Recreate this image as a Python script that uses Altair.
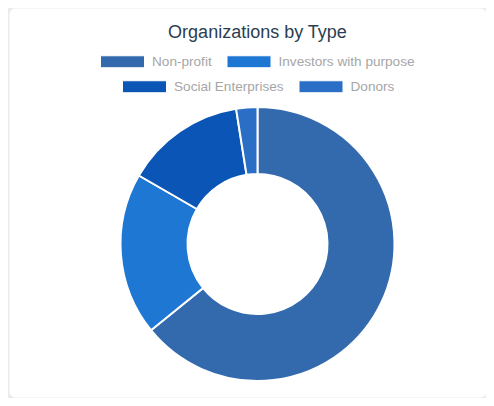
import altair as alt
import pandas as pd

categories = ["Non-profit", "Investors with purpose", "Social Enterprises", "Donors"]
counts = [77, 23, 17, 3]
colors = ["#336aad", "#1f77d4", "#0a55b5", "#2a6fc5"]
order = [0, 1, 2, 3]

df = pd.DataFrame({"type": categories, "count": counts, "idx": order})

rect_path = "M-1,-0.2727L1,-0.2727L1,0.2727L-1,0.2727Z"
FONT = "Liberation Sans"


def arc_layer(cats, lx, ly):
    cols = [colors[categories.index(c)] for c in cats]
    return (
        alt.Chart(df)
        .transform_joinaggregate(total="sum(count)")
        .transform_window(cum="sum(count)", sort=[alt.SortField("idx", order="ascending")], frame=[None, 0])
        .transform_calculate(
            t1="datum.cum / datum.total * 2 * PI",
            t0="(datum.cum - datum.count) / datum.total * 2 * PI",
        )
        .transform_filter(alt.FieldOneOfPredicate(field="type", oneOf=cats))
        .mark_arc(outerRadius=137, innerRadius=70, stroke="white", strokeWidth=2)
        .encode(
            theta=alt.Theta("t0:Q", scale=None),
            theta2="t1:Q",
            color=alt.Color(
                "type:N",
                scale=alt.Scale(domain=cats, range=cols),
                legend=alt.Legend(
                    title=None,
                    orient="none",
                    direction="horizontal",
                    legendX=lx,
                    legendY=ly,
                    symbolType=rect_path,
                    symbolSize=1936,
                    symbolStrokeWidth=1,
                    symbolStrokeColor="white",
                    symbolOpacity=1,
                    labelFont=FONT,
                    labelFontSize=13.6,
                    labelColor="#a6a6a6",
                    labelOffset=7,
                    columnPadding=12.5,
                    padding=0,
                ),
            ),
            x=alt.value(248.5),
            y=alt.value(236),
            tooltip=["type:N", "count:Q"],
        )
    )


chart = (
    alt.layer(
        arc_layer(["Non-profit", "Investors with purpose"], 91, 31),
        arc_layer(["Social Enterprises", "Donors"], 113, 56),
    )
    .resolve_scale(color="independent")
    .properties(
        width=477,
        height=389,
        padding={"left": 1, "top": 0, "right": 0, "bottom": 1},
        autosize=alt.AutoSizeParams(type="none"),
        background="#ebebeb",
        title=alt.TitleParams(
            "Organizations by Type",
            font=FONT,
            fontSize=18,
            fontWeight="normal",
            color="#2c3e50",
            anchor="middle",
            frame="group",
            offset=0,
            baseline="alphabetic",
            dy=48,
            dx=10,
        ),
    )
    .configure_view(fill="white", stroke="transparent", cornerRadius=6)
)

chart.save("out.html", embed_options={"renderer": "svg", "actions": False})
